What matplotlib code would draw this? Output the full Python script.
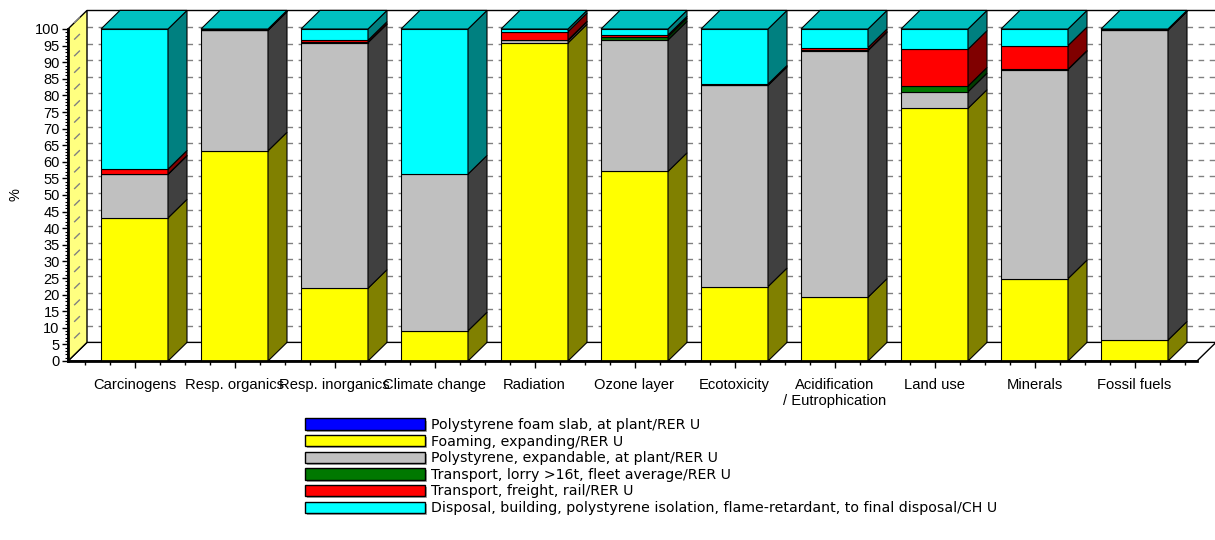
import matplotlib.pyplot as plt
import numpy as np
from matplotlib.patches import Polygon, Patch
from matplotlib import patheffects as pe

categories = ["Carcinogens", "Resp. organics", "Resp. inorganics", "Climate change",
              "Radiation", "Ozone layer", "Ecotoxicity", "Acidification\n/ Eutrophication",
              "Land use", "Minerals", "Fossil fuels"]

series_names = ["Polystyrene foam slab, at plant/RER U",
                "Foaming, expanding/RER U",
                "Polystyrene, expandable, at plant/RER U",
                "Transport, lorry >16t, fleet average/RER U",
                "Transport, freight, rail/RER U",
                "Disposal, building, polystyrene isolation, flame-retardant, to final disposal/CH U"]

# % contribution per impact category (bottom to top)
foam_slab = [0, 0, 0, 0, 0, 0, 0, 0, 0, 0, 0]
foaming = [43.1, 63.3, 21.9, 9.1, 95.8, 57.1, 22.4, 19.2, 76.1, 24.8, 6.3]
polystyrene = [13.1, 36.3, 74.0, 47.2, 0.8, 39.6, 60.6, 74.3, 5.0, 63.0, 93.4]
lorry = [0.1, 0.1, 0.1, 0.0, 0.1, 1.0, 0.1, 0.1, 1.7, 0.1, 0.0]
rail = [1.5, 0.1, 0.6, 0.0, 2.5, 0.5, 0.3, 0.8, 11.1, 7.1, 0.1]
disposal = [42.2, 0.2, 3.4, 43.7, 0.8, 1.8, 16.6, 5.6, 6.1, 5.0, 0.2]

front_cols = ['#0000FF', '#FFFF00', '#C0C0C0', '#007800', '#FF0000', '#00FFFF']
side_cols = ['#000080', '#808000', '#404040', '#003C00', '#800000', '#008080']
top_cols = ['#0000C0', '#C0C000', '#909090', '#005A00', '#C00000', '#00C0C0']

W, H = 1215, 540
fig = plt.figure(figsize=(W / 100, H / 100), dpi=100)
ax = fig.add_axes([68 / W, (H - 361) / H, (1197 - 68) / W, (361 - 29) / H])
ax.set_xlim(-0.665, 10.625)
ax.set_ylim(0, 100)
ax.patch.set_alpha(0)

w = 0.67
dx, dy = 0.19, 5.6
x0, x1 = ax.get_xlim()

# back wall, floor, left wall
ax.add_patch(Polygon([(x0 + dx, dy), (x1 + dx, dy), (x1 + dx, 100 + dy), (x0 + dx, 100 + dy)],
                     fc='white', ec='none', zorder=0.5, clip_on=False))
for v in range(5, 100, 5):
    ax.plot([x0 + dx, x1 + dx], [v + dy, v + dy], color='#808080', lw=1,
            ls=(0, (4, 4)), zorder=0.6, clip_on=False)
ax.plot([x0 + dx, x1 + dx], [100 + dy, 100 + dy], color='black', lw=1, zorder=0.6, clip_on=False)
ax.add_patch(Polygon([(x0, 0), (x1, 0), (x1 + dx, dy), (x0 + dx, dy)],
                     fc='white', ec='black', lw=1, zorder=0.7, clip_on=False))
ax.add_patch(Polygon([(x0, 0), (x0 + dx, dy), (x0 + dx, 100 + dy), (x0, 100)],
                     fc='#FFFF80', ec='black', lw=1, zorder=0.8, clip_on=False))
for v in range(5, 101, 5):
    ax.plot([x0 + dx * 0.35, x0 + dx * 0.6], [v + dy * 0.35, v + dy * 0.6], color='#808080',
            lw=1, zorder=0.9, clip_on=False)

# stacked 3D bars
xs = np.arange(len(categories))
stack = [foam_slab, foaming, polystyrene, lorry, rail, disposal]
bottom = np.zeros(len(categories))
for vals, fc, sc in zip(stack, front_cols, side_cols):
    vals = np.array(vals, dtype=float)
    m = vals > 0
    ax.bar(xs[m], vals[m], w, bottom=bottom[m], color=fc, edgecolor='black', lw=0.8, zorder=3)
    for xi, b, v in zip(xs[m], bottom[m], vals[m]):
        xr = xi + w / 2
        ax.add_patch(Polygon([(xr, b), (xr + dx, b + dy), (xr + dx, b + v + dy), (xr, b + v)],
                             fc=sc, ec='black', lw=0.8, zorder=3, clip_on=False))
    bottom += vals
for xi, b in zip(xs, bottom):
    ax.add_patch(Polygon([(xi - w / 2, b), (xi - w / 2 + dx, b + dy),
                          (xi + w / 2 + dx, b + dy), (xi + w / 2, b)],
                         fc=top_cols[-1], ec='black', lw=0.8, zorder=3, clip_on=False))

# axes styling
for s in ['top', 'right']:
    ax.spines[s].set_visible(False)
for s in ['left', 'bottom']:
    ax.spines[s].set_linewidth(2)
    ax.spines[s].set_zorder(4)
ax.set_yticks(range(0, 101, 5))
ax.set_yticks(range(0, 101, 1), minor=True)
ax.set_xticks(xs)
ax.set_xticks(np.arange(-0.5, 10.51, 0.25), minor=True)
ax.set_xticklabels(categories, fontsize=10.6, family='Liberation Sans', linespacing=1.2)
for lab in ax.get_yticklabels():
    lab.set_fontsize(10.5)
    lab.set_family('Liberation Sans')
ax.tick_params(axis='y', which='major', length=4, width=1, pad=2)
ax.tick_params(axis='y', which='minor', length=2, width=0.8)
ax.tick_params(axis='x', which='major', length=5, width=1, pad=7)
ax.tick_params(axis='x', which='minor', length=3, width=1)
fig.text(15 / W, 1 - 195 / H, '%', rotation=90, ha='center', va='center',
         fontsize=10.5, family='Liberation Sans')

# legend
handles = [Patch(facecolor=c, edgecolor='black', lw=1) for c in front_cols]
leg = fig.legend(handles, series_names, loc='upper left', bbox_to_anchor=(305 / W, 1 - 418 / H),
                 frameon=False, prop={'family': 'DejaVu Sans', 'size': 10.2},
                 handlelength=8.45, handleheight=0.85, labelspacing=0.185, handletextpad=0.45,
                 borderpad=0, borderaxespad=0)
for p in leg.get_patches():
    p.set_path_effects([pe.SimplePatchShadow(offset=(1.5, -1.5), shadow_rgbFace='#909090', alpha=0.8),
                        pe.Normal()])

fig.savefig('out.png', dpi=100, facecolor='white')
